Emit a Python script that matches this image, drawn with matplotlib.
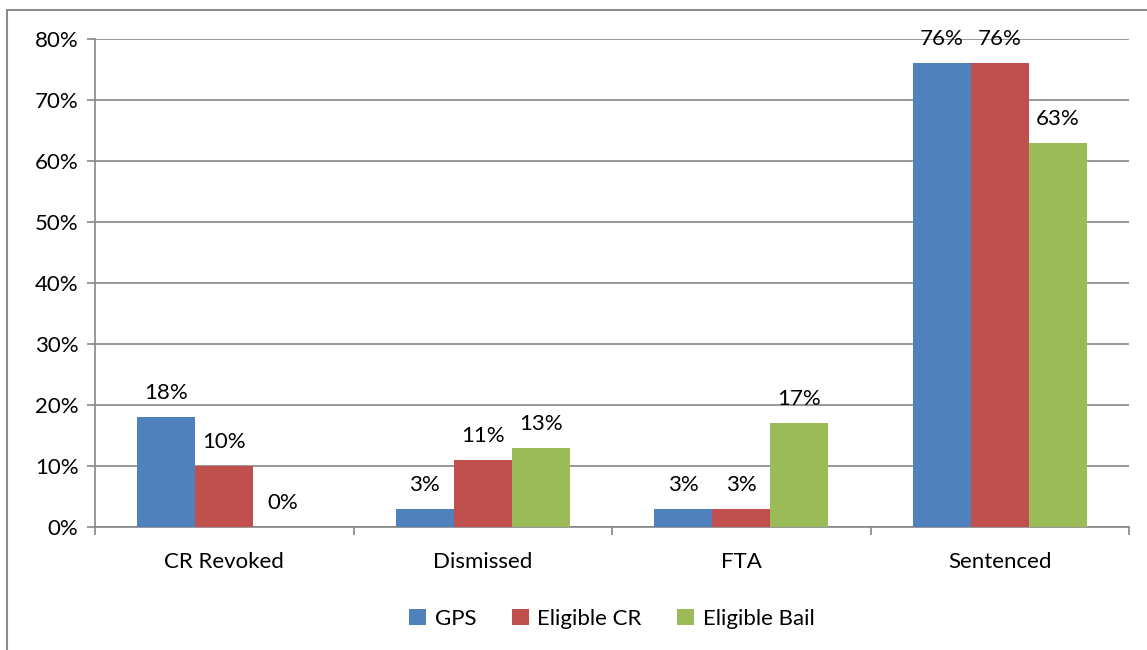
import matplotlib.pyplot as plt
import numpy as np
from matplotlib.patches import Rectangle

categories = ['CR Revoked', 'Dismissed', 'FTA', 'Sentenced']
series_names = ['GPS', 'Eligible CR', 'Eligible Bail']
gps = [18, 3, 3, 76]
eligible_cr = [10, 11, 3, 76]
eligible_bail = [0, 13, 17, 63]
colors = ['#4F81BD', '#C0504D', '#9BBB59']

plt.rcParams['font.family'] = ['Lato', 'DejaVu Sans']
FS = 16

fig = plt.figure(figsize=(11.47, 6.5), dpi=100)
ax = fig.add_axes([95 / 1147, 1 - 527 / 650, (1129 - 95) / 1147, (527 - 39) / 650])

# outer chart border
fig.patches.append(Rectangle((7 / 1147, -0.01), 1.2, 1 - 10 / 650 + 0.01,
                             transform=fig.transFigure, fill=False,
                             edgecolor='#8c8c8c', linewidth=1.5))

x = np.arange(len(categories))
w = 0.225
for i, (vals, name) in enumerate(zip([gps, eligible_cr, eligible_bail], series_names)):
    pos = x + (i - 1) * w
    ax.bar(pos, vals, width=w, color=colors[i], label=name, zorder=3)
    for p, v in zip(pos, vals):
        ax.text(p, v + 2.3, f'{v}%', ha='center', va='bottom', fontsize=FS, zorder=4)

ax.set_xlim(-0.5, len(categories) - 0.5)
ax.set_ylim(0, 80)
ax.set_yticks(np.arange(0, 81, 10))
ax.set_yticklabels([f'{t}%' for t in range(0, 81, 10)], fontsize=FS)
ax.yaxis.grid(True, color='#868686', linewidth=1.2, zorder=0)

ax.set_xticks(x)
ax.set_xticklabels(categories, fontsize=FS)
ax.set_xticks(np.arange(-0.5, len(categories)), minor=True)
ax.tick_params(axis='x', which='major', length=0, pad=18)
ax.tick_params(axis='x', which='minor', length=6, color='#868686', width=1.2)
ax.tick_params(axis='y', length=6, color='#868686', width=1.2, pad=6)

for s in ['top', 'right']:
    ax.spines[s].set_visible(False)
for s in ['left', 'bottom']:
    ax.spines[s].set_color('#868686')
    ax.spines[s].set_linewidth(1.2)

ax.legend(loc='upper center', bbox_to_anchor=(0.5, -0.127), ncol=3, frameon=False,
          fontsize=FS, handlelength=0.75, handleheight=0.75, handletextpad=0.4,
          columnspacing=1.6)

fig.savefig('out.png', dpi=100)
